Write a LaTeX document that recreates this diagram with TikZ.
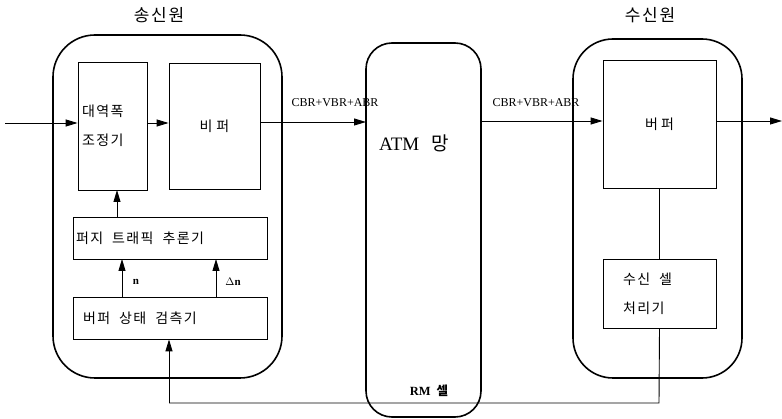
\documentclass[tikz,border=0pt]{standalone}
\usepackage{fontspec}
\setmainfont{Liberation Serif}
\newfontfamily\kr[LetterSpace=10]{Noto Sans CJK KR}
\newcommand{\wsp}{\hspace{9pt}}
\usetikzlibrary{arrows.meta}
\begin{document}
\begin{tikzpicture}[x=1pt,y=-1pt,
  line width=0.9pt,
  blk/.style={draw,line width=0.8pt,inner ysep=0pt,font=\kr\fontsize{14}{29}\selectfont},
  outer/.style={draw,line width=1.6pt},
  tip/.style={-{Triangle[length=12pt,width=7pt]}},
  lat/.style={font=\fontsize{12}{14}\selectfont}
]
\useasboundingbox (0,0) rectangle (782,419);
% outer rounded frames
\draw[outer,rounded corners=42pt] (53,35) rectangle (282,378);
\draw[outer,rounded corners=26pt] (366,43) rectangle (481,417);
\draw[outer,rounded corners=40pt] (573,39) rectangle (742,378);
% titles
\node[font=\kr\fontsize{17}{19}\selectfont] (tsend) at (159,15) {송신원};
\node[font=\kr\fontsize{17}{19}\selectfont] (trecv) at (650,15) {수신원};
% sender blocks
\node[blk,minimum width=69pt,minimum height=128pt,inner xsep=4pt,text width=61pt,align=left] (bw) at (112.5,126) {대역폭\\조정기};
\node[blk,minimum width=91pt,minimum height=126pt,inner xsep=0pt,align=center] (sbuf) at (214.5,126) {비\hspace{4pt}퍼};
\node[blk,minimum width=194pt,minimum height=42pt,inner xsep=3pt,text width=188pt,align=left] (fz) at (170,238) {퍼지\wsp 트래픽\wsp 추론기};
\node[blk,minimum width=194pt,minimum height=42pt,inner xsep=10pt,text width=174pt,align=left] (bs) at (170,318) {버퍼\wsp 상태\wsp 검측기};
% network
\node[font=\fontsize{19}{21}\selectfont] (atm) at (414,143) {ATM\hspace{12pt}{\kr 망}};
\node[font=\fontsize{12.5}{14}\selectfont\bfseries] (rm) at (429,391) {RM\hspace{6pt}{\kr 셀}};
% receiver blocks
\node[blk,minimum width=113pt,minimum height=128pt,inner xsep=0pt,align=center] (rbuf) at (659.5,124) {버\hspace{3pt}퍼};
\node[blk,minimum width=113pt,minimum height=69pt,inner xsep=20pt,text width=73pt,align=left] (rcp) at (659.5,293.5) {수신\wsp 셀\\처리기};
% coordinates
\coordinate (in) at (5,123);
\coordinate (out) at (782,121);
\coordinate (fb1) at (169,403);
\coordinate (fb2) at (659,403);
\coordinate (atmL) at (366,122);
\coordinate (atmR) at (481,121);
% connectors
\draw[tip] (in) -- (in -| bw.west);
\draw[tip] (bw.east |- 0,123) -- (sbuf.west |- 0,123);
\draw[tip] (sbuf.east |- 0,122) -- (atmL);
\draw[tip] (atmR) -- (rbuf.west |- 0,121);
\draw[tip] (rbuf.east |- 0,121) -- (out);
\draw[tip] (117,217) -- (117,190);
\draw[tip] (122,297) -- (122,259);
\draw[tip] (216,297) -- (216,259);
\node[font=\fontsize{11}{13}\selectfont\bfseries] (nl) at (136,282) {n};
\node[font=\fontsize{11}{13}\selectfont\bfseries] (dnl) at (233,282) {$\Delta$n};
\node[lat] (l1) at (335,103) {CBR+VBR+ABR};
\node[lat] (l2) at (536,103) {CBR+VBR+ABR};
\draw (rbuf.south) -- (rcp.north);
\draw (rcp.south) -- (fb2) -- (fb1);
\draw[tip] (fb1) -- (bs.south -| fb1);
\end{tikzpicture}
\end{document}
